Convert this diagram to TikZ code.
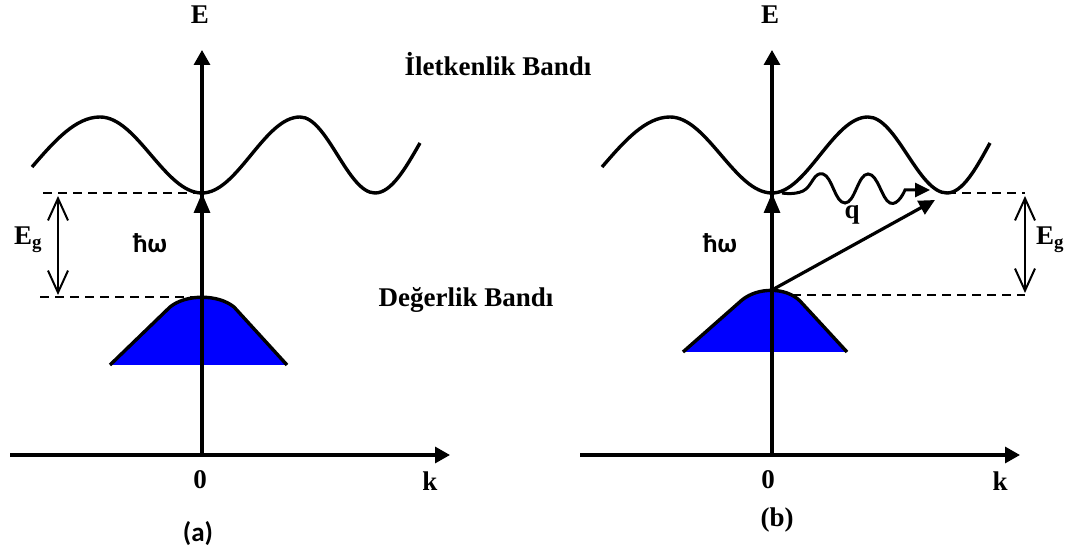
\documentclass[tikz,border=0pt]{standalone}
\usepackage{fontspec}
\setmainfont{Liberation Serif}
\newfontfamily\calfont{Carlito}
\usetikzlibrary{arrows.meta,positioning}

\begin{document}
\begin{tikzpicture}[x=1pt, y=1pt,
    axis/.style={line width=3.2pt, -{Triangle[length=15pt,width=16pt]}},
    band/.style={line width=3.4pt},
    gap/.style={line width=1.8pt, dash pattern=on 9pt off 6pt},
    egarrow/.style={line width=2pt, {Straight Barb[length=22pt,width=20pt]}-{Straight Barb[length=22pt,width=20pt]}},
    lbl/.style={font=\fontsize{27}{30}\selectfont\bfseries, inner sep=0pt},
    sans/.style={font=\fontsize{27}{30}\selectfont\calfont\bfseries, inner sep=0pt}]
    \useasboundingbox (0,0) rectangle (1079,551);

    % (a) direct gap
    \coordinate (Oa) at (202,96);
    \coordinate (Ta) at (202,501);
    \coordinate (kLa) at (10,96);
    \coordinate (kRa) at (450,96);
    \coordinate (Ca) at (202,358);
    \coordinate (Va) at (202,254);

    \fill[blue] (110,186) -- (170,244) .. controls (186,257) and (218,257) .. (234,244) -- (287,186) -- cycle;
    \draw[band] (110,186) -- (170,244) .. controls (186,257) and (218,257) .. (234,244) -- (287,186);
    \draw[band] (32,384) sin (100,434) cos (151,396) sin (Ca) cos (251,396) sin (300,434) cos (337.5,396) sin (375,358) cos (420,408);

    \draw[axis] (kLa) -- (kRa);
    \draw[axis] (Oa) -- (Ta);
    \draw[line width=3.2pt, -{Triangle[length=20pt,width=16pt]}] (202,300) -- (Ca);

    \draw[gap] (43,358) -- (Ca);
    \draw[gap] (40,254) -- (Va);
    \draw[egarrow] (58,355) -- (58,256);

    \node[lbl] (Ea) at (200,536) {E};
    \node[lbl] (ga) at (28,311) {E\textsubscript{g}};
    \node[sans] (hwa) at (150,308) {ħω};
    \node[lbl] (zeroa) at (200,71) {0};
    \node[lbl] (ka) at (430,70) {k};
    \node[sans] (capa) at (198,17) {(a)};

    \node[lbl, anchor=base] (cb) at (498,475) {İletkenlik Bandı};
    \node[lbl, anchor=base] (vb) at (466,244) {Değerlik Bandı};

    % (b) indirect gap
    \coordinate (Ob) at (772,96);
    \coordinate (Tb) at (772,501);
    \coordinate (kLb) at (580,96);
    \coordinate (kRb) at (1020,96);
    \coordinate (Cb) at (772,358);
    \coordinate (Mb) at (947,358);
    \coordinate (Vb) at (772,261);
    \coordinate (qs) at (782,358);
    \coordinate (qe) at (930,361);
    \coordinate (pe) at (935,351);

    \fill[blue] (683,199) -- (742,251) .. controls (758,264) and (786,264) .. (800,250) -- (847,199) -- cycle;
    \draw[band] (683,199) -- (742,251) .. controls (758,264) and (786,264) .. (800,250) -- (847,199);
    \draw[band] (602,384) sin (670,434) cos (721,396) sin (Cb) cos (820,396) sin (868,434) cos (907.5,396) sin (Mb) cos (990,408);

    \draw[axis] (kLb) -- (kRb);
    \draw[axis] (Ob) -- (Tb);
    \draw[line width=3.2pt, -{Triangle[length=20pt,width=16pt]}] (772,300) -- (Cb);
    \draw[line width=3.2pt, -{Triangle[length=16pt,width=15pt]}] (Vb) -- (pe);
    \draw[line width=3pt, -{Triangle[length=15pt,width=14pt]}] plot[smooth, tension=0.8] coordinates {(qs) (803,360) (823,377) (845,348) (868,377) (890,348) (905,361)} -- (qe);

    \draw[gap] (Mb) -- (1025,358);
    \draw[gap] (792,256) -- (1025,256);
    \draw[egarrow] (1025,355) -- (1025,258);

    \node[lbl] (Eb) at (770,536) {E};
    \node[lbl] (gb) at (1050,311) {E\textsubscript{g}};
    \node[sans] (hwb) at (720,308) {ħω};
    \node[lbl] (q) at (852,336) {q};
    \node[lbl] (zerob) at (768,71) {0};
    \node[lbl] (kb) at (1000,70) {k};
    \node[lbl] (capb) at (777,31) {(b)};
\end{tikzpicture}
\end{document}
